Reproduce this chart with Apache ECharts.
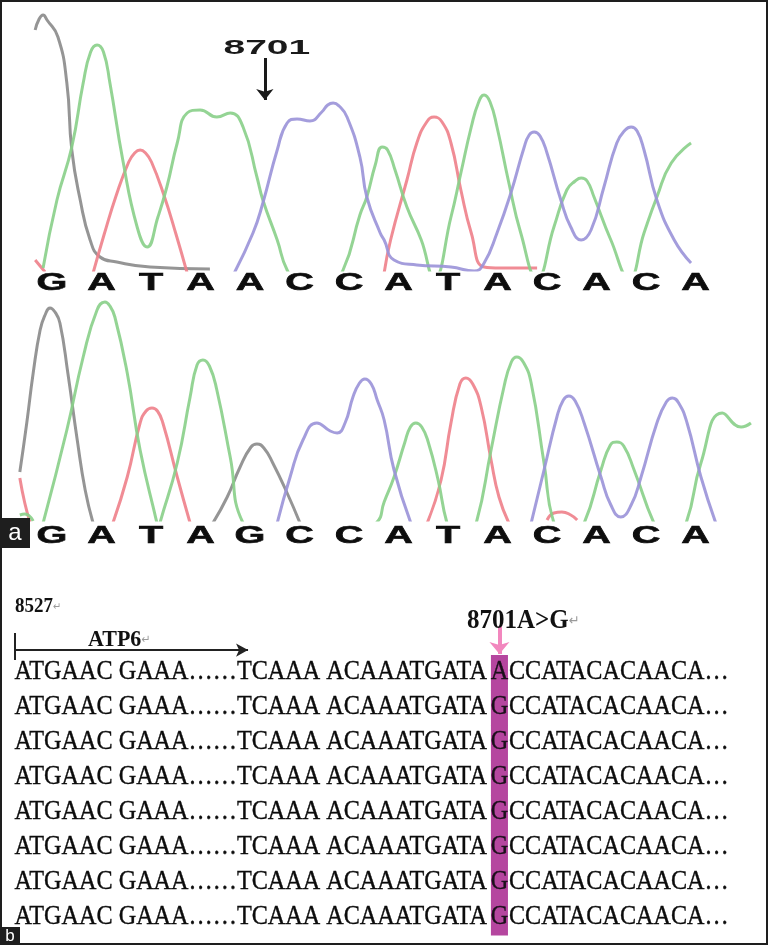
<!DOCTYPE html>
<html><head><meta charset="utf-8">
<script src="https://cdn.jsdelivr.net/npm/echarts/dist/echarts.min.js"></script>
<style>html,body{margin:0;padding:0;background:#fff}#c{width:768px;height:945px}</style>
</head><body><div id="c"></div>
<script>
// ---------- DATA (x = base position, y = signal intensity) ----------
const topBases = ['G','A','T','A','A','C','C','A','T','A','C','A','C','A'];
const botBases = ['G','A','T','A','G','C','C','A','T','A','C','A','C','A'];

// upper chromatogram (wild type)
const topG = [[0.66,240],[0.74,251],[0.82,255],[0.90,250],[1.12,233],[1.30,187],[1.40,120],[1.57,70],[1.77,30],[1.97,13],[2.31,8],[2.98,3],[4.19,1]];
const topA = [[0.82,2],[1.10,70],[1.40,123],[1.63,187],[1.78,218],[1.91,225],[2.04,218],[2.17,187],[2.43,110],[2.72,43],[2.92,23],[3.14,53],[3.32,83],[3.53,127],[3.73,157],[3.99,160],[4.33,153],[4.60,157],[4.86,143],[5.14,93],[5.26,70],[5.55,30],[5.75,0],[6.31,-45],[6.88,0],[7.22,55],[7.36,73],[7.53,105],[7.67,123],[7.78,120],[7.93,100],[8.17,63],[8.46,30],[8.72,-8],[9.06,53],[9.26,97],[9.47,143],[9.62,168],[9.73,175],[9.85,168],[9.99,143],[10.23,87],[10.47,37],[10.80,-8],[11.14,43],[11.40,80],[11.57,89],[11.69,92],[11.81,89],[11.95,73],[12.29,30],[12.66,-8],[12.96,37],[13.22,73],[13.51,107],[13.91,127]];
const topT1 = [[0.66,10],[0.76,4],[0.86,-2]];
const topT2 = [[1.83,-3],[2.05,35],[2.30,75],[2.55,108],[2.67,117],[2.78,120],[2.89,117],[3.01,108],[3.26,75],[3.51,35],[3.73,-3]];
const topT3 = [[7.71,-3],[7.84,30],[8.17,90],[8.37,127],[8.57,148],[8.72,153],[8.88,148],[9.06,127],[9.26,80],[9.47,37],[9.73,3],[10.07,2],[10.80,2]];
const topC = [[4.66,-5],[5.06,37],[5.26,67],[5.55,120],[5.75,147],[5.95,151],[6.21,149],[6.45,158],[6.57,165],[6.68,167],[6.80,164],[6.96,153],[7.22,113],[7.36,73],[7.63,37],[7.71,30],[7.91,10],[8.37,5],[9.06,3],[9.53,-1],[9.73,7],[9.99,37],[10.27,77],[10.54,123],[10.64,135],[10.74,138],[10.86,134],[11.00,117],[11.28,70],[11.48,43],[11.69,30],[11.89,40],[12.15,83],[12.41,127],[12.58,140],[12.70,143],[12.82,139],[12.96,120],[13.22,70],[13.57,30],[13.91,7]];

// lower chromatogram (8701A>G)
const botG1 = [[0.35,48],[0.49,97],[0.62,147],[0.76,190],[0.86,205],[0.96,212],[1.06,208],[1.16,197],[1.32,147],[1.51,80],[1.67,30],[1.83,-3]];
const botG2 = [[4.25,-3],[4.54,23],[4.80,53],[5.02,73],[5.14,76],[5.28,72],[5.46,57],[5.75,27],[6.01,-3]];
const botA1 = [[0.35,5],[0.45,6],[0.62,-1]];
const botA2 = [[0.82,-3],[1.30,90],[1.63,163],[1.91,210],[2.07,218],[2.17,214],[2.27,203],[2.52,147],[2.78,70],[3.12,-3],[3.15,-10],[3.18,-3],[3.53,57],[3.79,123],[3.93,155],[4.05,160],[4.18,154],[4.33,130],[4.60,63],[4.86,-3],[6.21,-60],[7.55,-3],[7.71,18],[7.91,43],[8.13,78],[8.24,93],[8.35,97],[8.47,93],[8.60,78],[8.80,40],[8.98,-3],[9.26,-40],[9.57,-3],[9.87,70],[10.13,133],[10.28,158],[10.39,163],[10.52,158],[10.68,137],[10.94,57],[11.14,-3],[11.44,-25],[11.75,-3],[12.09,50],[12.28,75],[12.41,78],[12.55,74],[12.76,50],[13.16,-3],[13.48,-30],[13.81,-3],[14.11,57],[14.54,107],[14.92,93],[15.12,97]];
const botT1 = [[0.35,42],[0.45,17],[0.56,-3]];
const botT2 = [[2.23,-3],[2.52,43],[2.78,97],[2.90,109],[3.02,112],[3.13,109],[3.24,97],[3.53,43],[3.79,-3]];
const botT3 = [[8.58,-3],[8.86,40],[9.06,97],[9.24,136],[9.36,142],[9.50,136],[9.67,113],[9.87,60],[10.03,23],[10.23,-3]];
const botT4 = [[11.00,0],[11.14,7],[11.30,8],[11.48,5],[11.61,0]];
const botC1 = [[5.55,-3],[5.81,43],[6.07,80],[6.35,97],[6.62,89],[6.76,87],[6.92,97],[7.08,123],[7.20,136],[7.32,141],[7.45,136],[7.57,120],[7.71,100],[7.91,50],[8.25,-3]];
const botC2 = [[10.68,-3],[10.94,50],[11.20,103],[11.33,120],[11.44,124],[11.57,119],[11.75,97],[12.09,43],[12.29,15],[12.49,3],[12.70,15],[12.90,43],[13.22,97],[13.41,118],[13.53,122],[13.66,117],[13.83,97],[14.11,43],[14.41,-3]];

// panel b: aligned sequences
const rowVariant = ['A','G','G','G','G','G','G','G'];
const rowPrefix = 'ATGAAC GAAA\u2026\u2026TCAAA ACAAATGATA';
const rowSuffix = 'CCATACACAACA\u2026';
const mutationLabel = '8701';
const variantLabel = '8701A>G';
const startLabel = '8527';
const geneLabel = 'ATP6';

// ---------- LAYOUT / STYLE ----------
const COL = {A:'#88cf88', T:'#ee7f8a', C:'#9a92d8', G:'#8a8a8a'};
const hl = {start:19.83, end:20.54};   // variant column in sequence text units (em)
const markPos = {x:5.30, yTop:212, yTip:170, textY:222};
const annoB = [
  {x:0,     y:-1.37, text:startLabel,   size:19},
  {x:3.04,  y:-0.43, text:geneLabel,    size:22},
  {x:18.83, y:-0.97, text:variantLabel, size:25}
];

function trace(data, color, gi){
  return {type:'line', xAxisIndex:gi, yAxisIndex:gi, data:data, smooth:0.5, showSymbol:false, symbol:'none',
    silent:true, clip:true, lineStyle:{color:color, width:3, opacity:0.9}, z:2};
}
function letters(bases, gi, dy){
  return {type:'custom', xAxisIndex:gi, yAxisIndex:gi, clip:false, silent:true, z:5,
    data: bases.map(function(b,i){return [i+1,0];}),
    renderItem:function(params, api){
      const p = api.coord([api.value(0), api.value(1)]);
      return {type:'text', x:p[0], y:p[1]+dy, scaleX:1.72,
        style:{text:bases[params.dataIndex], fontFamily:'"Liberation Sans"', fontWeight:'bold', fontSize:23,
               fill:'#0d0d0d', stroke:'#0d0d0d', lineWidth:0.6, align:'center', verticalAlign:'middle'}};
    }};
}

const series = [
  trace(topG, COL.G, 0), trace(topT1, COL.T, 0), trace(topT2, COL.T, 0), trace(topT3, COL.T, 0),
  trace(topA, COL.A, 0), trace(topC, COL.C, 0),
  trace(botG1, COL.G, 1), trace(botG2, COL.G, 1), trace(botT1, COL.T, 1), trace(botT2, COL.T, 1),
  trace(botT3, COL.T, 1), trace(botT4, COL.T, 1), trace(botA1, COL.A, 1), trace(botA2, COL.A, 1),
  trace(botC1, COL.C, 1), trace(botC2, COL.C, 1),
  letters(topBases, 0, 14), letters(botBases, 1, 17),
  // "8701" annotation with arrow
  {type:'custom', xAxisIndex:0, yAxisIndex:0, clip:false, silent:true, z:6,
    data:[[markPos.x+0.04, markPos.textY]],
    renderItem:function(params, api){
      const p = api.coord([api.value(0), api.value(1)]);
      return {type:'text', x:p[0], y:p[1], scaleX:1.95,
        style:{text:mutationLabel, fontFamily:'"Liberation Sans"', fontWeight:'bold', fontSize:20, fill:'#1a1a1a', align:'center', verticalAlign:'middle'}};
    },
    markLine:{silent:true, animation:false, symbol:['none','arrow'], symbolSize:[13,11], label:{show:false},
      lineStyle:{color:'#1a1a1a', width:3, type:'solid'},
      data:[[{coord:[markPos.x, markPos.yTop]},{coord:[markPos.x, markPos.yTip]}]]}
  },
  // panel b rows with highlighted variant column
  {type:'custom', xAxisIndex:2, yAxisIndex:2, clip:false, silent:true, z:4,
    data: rowVariant.map(function(v,i){return [0,i];}),
    renderItem:function(params, api){
      const i = params.dataIndex;
      const a = api.coord([hl.start, i]);
      const b = api.coord([hl.end, i+1]);
      const ym = (a[1]+b[1])/2;
      const st = {fontFamily:'"Liberation Serif"', fontSize:24.2, fill:'#0c0c0c', stroke:'#0c0c0c', lineWidth:0.35, verticalAlign:'middle'};
      return {type:'group', children:[
        {type:'rect', shape:{x:a[0], y:a[1], width:b[0]-a[0], height:b[1]-a[1]+0.5}, style:{fill:'#b5469f'}},
        {type:'text', x:a[0]-4, y:ym, scaleY:1.1, style:Object.assign({}, st, {text:rowPrefix, align:'right'})},
        {type:'text', x:(a[0]+b[0])/2, y:ym, scaleY:1.1, style:Object.assign({}, st, {text:rowVariant[i], align:'center', fill:'#1a0f1a', stroke:'#1a0f1a'})},
        {type:'text', x:b[0]+1, y:ym, scaleY:1.1, style:Object.assign({}, st, {text:rowSuffix, align:'left'})}
      ]};
    }
  },
  // panel b annotations
  {type:'custom', xAxisIndex:2, yAxisIndex:2, clip:false, silent:true, z:6,
    data: annoB.map(function(d){return [d.x, d.y];}),
    renderItem:function(params, api){
      const d = annoB[params.dataIndex];
      const p = api.coord([api.value(0), api.value(1)]);
      return {type:'text', x:p[0], y:p[1], scaleY:1.08,
        style:{text:'{t|'+d.text+'}{r|\u21b5}', align:'left', verticalAlign:'middle',
          rich:{t:{fontFamily:'"Liberation Serif"', fontWeight:'bold', fontSize:d.size, fill:'#111'},
                r:{fontFamily:'"DejaVu Sans"', fontSize:Math.round(d.size*0.5), fill:'#9a9a9a'}}}};
    },
    markLine:{silent:true, animation:false, symbol:['none','none'], label:{show:false},
      lineStyle:{color:'#222', width:2, type:'solid'},
      data:[
        [{coord:[0,-0.14]},{coord:[9.71,-0.14], symbol:'arrow', symbolSize:[10,12]}],
        [{coord:[0,-0.63]},{coord:[0,0.14]}],
        [{coord:[(hl.start+hl.end)/2,-0.82], lineStyle:{color:'#f287be', width:4}},
         {coord:[(hl.start+hl.end)/2,-0.03], symbol:'arrow', symbolSize:[15,12], lineStyle:{color:'#f287be', width:4}}]
      ]}
  }
];

const option = {
  backgroundColor:'#ffffff',
  animation:false,
  grid:[
    {left:2.5, right:13.1, top:10, bottom:675},
    {left:2.5, right:13.1, top:290, bottom:425},
    {left:15, right:3, top:585, bottom:10}
  ],
  xAxis:[
    {type:'value', gridIndex:0, min:0, max:15.2, show:false},
    {type:'value', gridIndex:1, min:0, max:15.2, show:false},
    {type:'value', gridIndex:2, min:0, max:31.25, show:false}
  ],
  yAxis:[
    {type:'value', gridIndex:0, min:0, max:260, show:false},
    {type:'value', gridIndex:1, min:0, max:230, show:false},
    {type:'value', gridIndex:2, min:-2, max:8, inverse:true, show:false}
  ],
  series:series,
  graphic:[
    {type:'rect', z:100, silent:true, shape:{x:1,y:1,width:766,height:943}, style:{fill:'none', stroke:'#1e1e1e', lineWidth:2}},
    {type:'rect', z:100, silent:true, shape:{x:0,y:518,width:30,height:30}, style:{fill:'#1e1e1e'}},
    {type:'text', z:101, silent:true, x:15, y:533, style:{text:'a', fill:'#fff', fontFamily:'"Liberation Sans"', fontSize:24, align:'center', verticalAlign:'middle'}},
    {type:'rect', z:100, silent:true, shape:{x:0,y:927,width:20,height:18}, style:{fill:'#1e1e1e'}},
    {type:'text', z:101, silent:true, x:10, y:936, style:{text:'b', fill:'#fff', fontFamily:'"Liberation Sans"', fontSize:17, align:'center', verticalAlign:'middle'}}
  ]
};
const chart = echarts.init(document.getElementById('c'), null, {renderer:'canvas'});
chart.setOption(option);
</script></body></html>
